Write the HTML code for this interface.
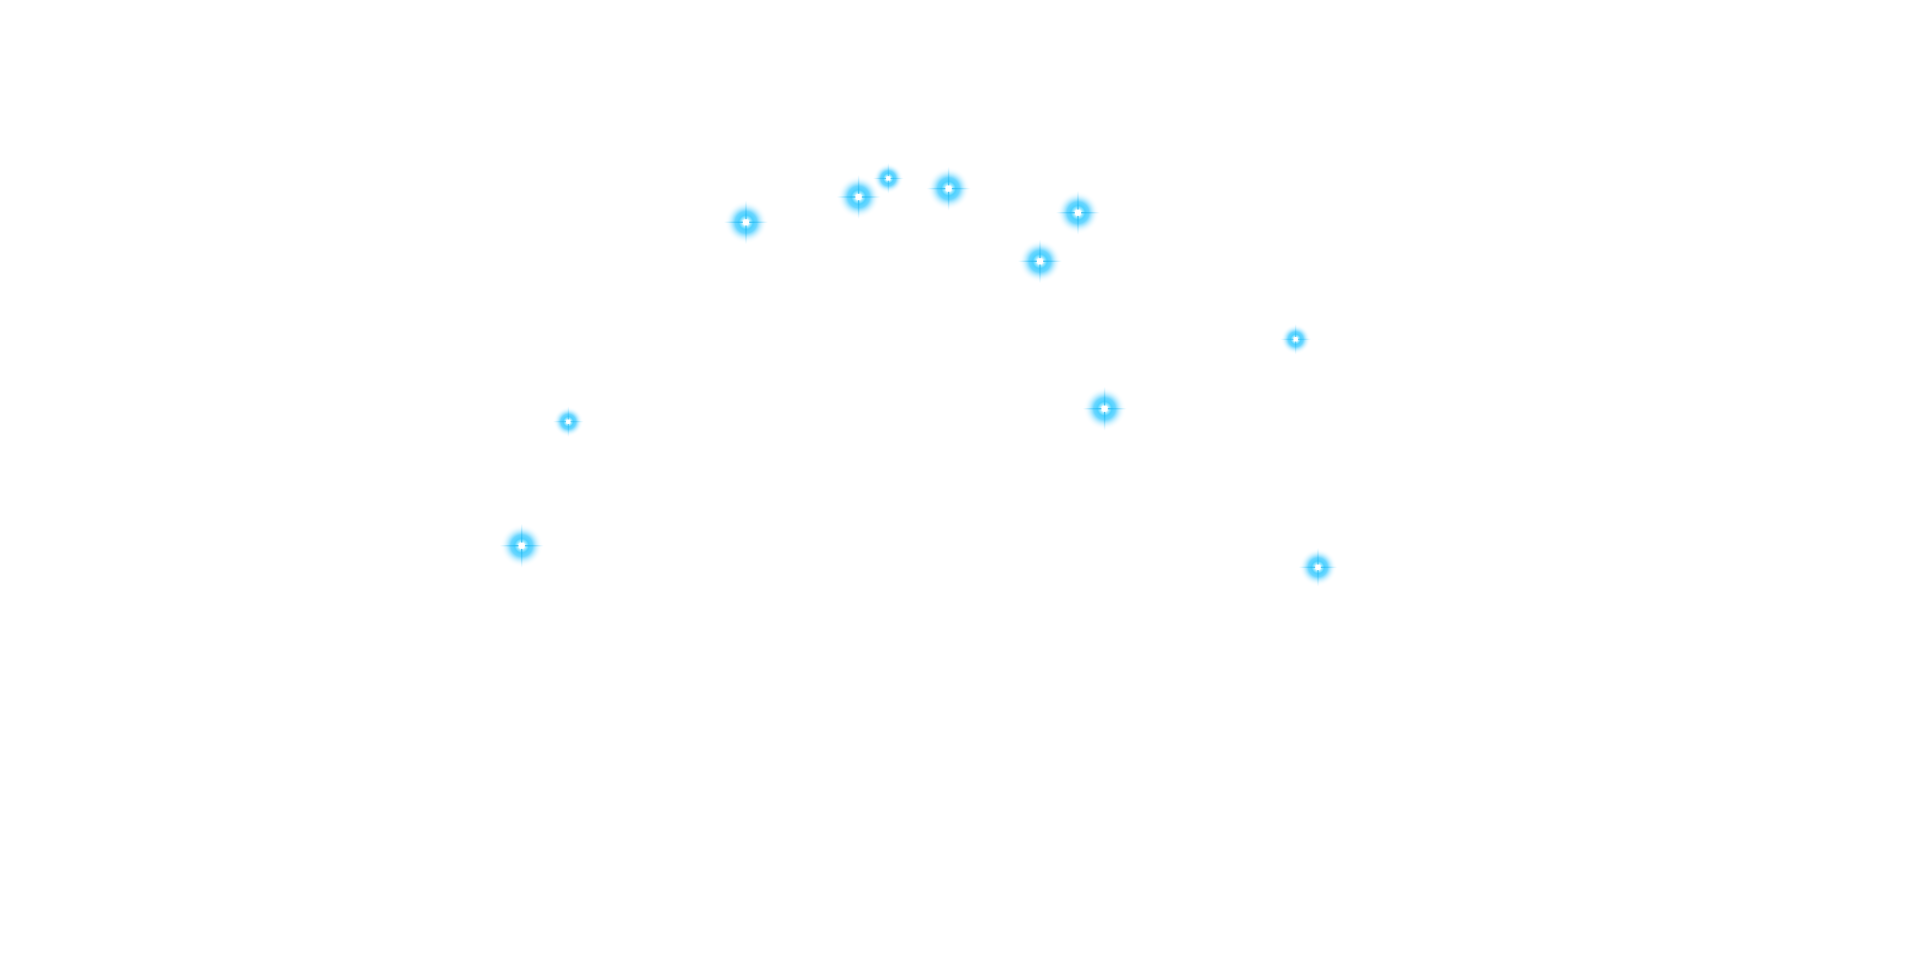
<!DOCTYPE html>
<html>
<head>
<meta charset="utf-8">
<style>
html,body{margin:0;padding:0;background:#ffffff;}
body{width:1920px;height:970px;overflow:hidden;}
svg{display:block;}
</style>
</head>
<body>
<svg width="1920" height="970" viewBox="0 0 1920 970" xmlns="http://www.w3.org/2000/svg">
  <defs>
    <radialGradient id="glow" cx="0.5" cy="0.5" r="0.5">
      <stop offset="0" stop-color="#ffffff" stop-opacity="1"/>
      <stop offset="0.13" stop-color="#ffffff" stop-opacity="1"/>
      <stop offset="0.22" stop-color="#9be8ff" stop-opacity="1"/>
      <stop offset="0.34" stop-color="#45cfff" stop-opacity="0.95"/>
      <stop offset="0.52" stop-color="#3ac9ff" stop-opacity="0.75"/>
      <stop offset="0.72" stop-color="#72d8ff" stop-opacity="0.35"/>
      <stop offset="0.88" stop-color="#b4eaff" stop-opacity="0.12"/>
      <stop offset="1" stop-color="#d8f4ff" stop-opacity="0"/>
    </radialGradient>
    <linearGradient id="rayH" x1="0" y1="0" x2="1" y2="0">
      <stop offset="0" stop-color="#20b6f0" stop-opacity="0"/>
      <stop offset="0.5" stop-color="#20b6f0" stop-opacity="0.9"/>
      <stop offset="1" stop-color="#20b6f0" stop-opacity="0"/>
    </linearGradient>
    <linearGradient id="rayV" x1="0" y1="0" x2="0" y2="1">
      <stop offset="0" stop-color="#20b6f0" stop-opacity="0"/>
      <stop offset="0.5" stop-color="#20b6f0" stop-opacity="0.9"/>
      <stop offset="1" stop-color="#20b6f0" stop-opacity="0"/>
    </linearGradient>
    <g id="sp">
      <circle cx="0" cy="0" r="21" fill="url(#glow)"/>
      <rect x="-22" y="-0.7" width="44" height="1.4" fill="url(#rayH)"/>
      <rect x="-0.7" y="-22" width="1.4" height="44" fill="url(#rayV)"/>
      <circle cx="0" cy="0" r="3.2" fill="#ffffff"/>
    </g>
  </defs>

  <!-- large -->
  <use href="#sp" transform="translate(746,222.3)"/>
  <use href="#sp" transform="translate(858.6,197)"/>
  <use href="#sp" transform="translate(948.6,188.6)"/>
  <use href="#sp" transform="translate(1078,212.7)"/>
  <use href="#sp" transform="translate(1040,261.3)"/>
  <use href="#sp" transform="translate(1104.6,408.7)"/>
  <use href="#sp" transform="translate(521.7,545.7)"/>
  <!-- medium -->
  <use href="#sp" transform="translate(1318,567.3) scale(0.88)"/>
  <!-- small -->
  <use href="#sp" transform="translate(888.3,178.4) scale(0.7)"/>
  <use href="#sp" transform="translate(1295.7,339.3) scale(0.7)"/>
  <use href="#sp" transform="translate(568.3,421.7) scale(0.7)"/>
</svg>
</body>
</html>
